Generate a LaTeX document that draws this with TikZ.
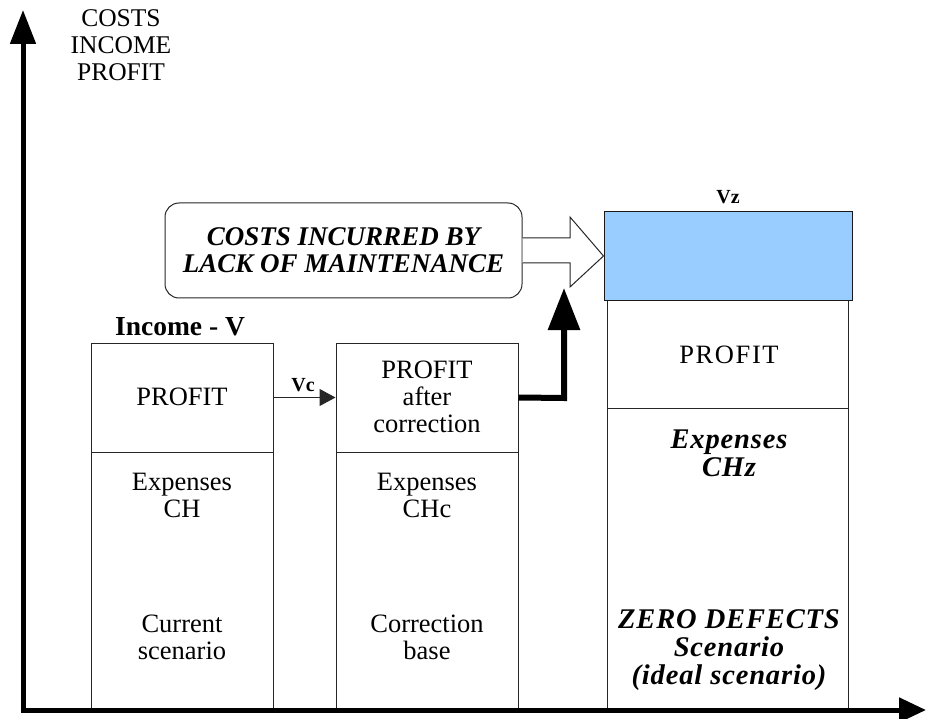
\documentclass[tikz,border=0pt]{standalone}
\usepackage{fontspec}
\setmainfont{Liberation Serif}
\usetikzlibrary{arrows.meta}
\definecolor{vzblue}{HTML}{99CCFF}
\begin{document}
\begin{tikzpicture}[x=1pt,y=-1pt,
  txt/.style={inner sep=0pt,align=center,font=\fontsize{26.5}{27}\selectfont},
  btxt/.style={txt,font=\fontsize{27}{27}\selectfont\bfseries\itshape},
  ztxt/.style={txt,font=\fontsize{28.5}{28}\selectfont\bfseries\itshape\addfontfeature{LetterSpace=3}},
  lbl/.style={inner sep=0pt,font=\fontsize{20}{22}\selectfont\bfseries},
  boxpart/.style={draw=black!85,line width=1pt,fill=white,inner sep=0pt},
  axis/.style={line width=5pt}]
\useasboundingbox (0,0) rectangle (926,719);
% axes
\coordinate (yb) at (23,712);
\coordinate (yt) at (23,10);
\coordinate (xl) at (21,710);
\coordinate (xr) at (926,710);
\draw[axis,-{Triangle[length=34pt,width=25pt]}] (yb) -- (yt);
% boxes
\node[boxpart,minimum width=182pt,minimum height=109pt] (b1t) at (182,397.5) {};
\node[boxpart,minimum width=182pt,minimum height=258pt] (b1b) at (182,581) {};
\node[boxpart,minimum width=182pt,minimum height=109pt] (b2t) at (427,397.5) {};
\node[boxpart,minimum width=182pt,minimum height=258pt] (b2b) at (427,581) {};
\node[boxpart,minimum width=241pt,minimum height=108pt] (b3t) at (727.5,354) {};
\node[boxpart,minimum width=241pt,minimum height=302pt] (b3b) at (727.5,559) {};
\node[boxpart,fill=vzblue,draw=black!90,minimum width=248pt,minimum height=88pt] (vz) at (728,256) {};
\draw[axis,-{Triangle[length=27pt,width=24pt]}] (xl) -- (xr);
% texts in boxes
\node[txt] (t1a) at (182,397) {PROFIT};
\node[txt] (t1b) at (182,495) {Expenses\\CH};
\node[txt] (t1c) at (182,637) {Current\\scenario};
\node[txt] (t2a) at (427,397) {PROFIT\\after\\correction};
\node[txt] (t2b) at (427,495) {Expenses\\CHc};
\node[txt] (t2c) at (427,637) {Correction\\base};
\node[txt,font=\fontsize{26.5}{27}\selectfont\addfontfeature{LetterSpace=6}] (t3a) at (729,355) {PROFIT};
\node[ztxt] (t3b) at (729,453) {Expenses\\CHz};
\node[ztxt] (t3c) at (729,650) {ZERO DEFECTS\\Scenario\\(ideal scenario)};
% labels
\node[txt,font=\fontsize{27.5}{27}\selectfont\bfseries] (inc) at (180,327) {Income - V};
\node[lbl] (vzl) at (728,197) {Vz};
\node[lbl] (vcl) at (303,385) {Vc};
\node[txt,font=\fontsize{25.5}{27}\selectfont] (yl) at (121,45) {COSTS\\INCOME\\PROFIT};
% rounded box
\node[draw=black!85,line width=1pt,rounded corners=14pt,minimum width=357pt,minimum height=95pt,btxt] (cost) at (343.5,250.5) {COSTS INCURRED BY\\LACK OF MAINTENANCE};
% hollow arrow
\draw[draw=black!85,line width=1pt,fill=white] (cost.east |- 0,238) -- (570,238) -- (570,217) -- (vz.west) -- (570,287) -- (570,263) -- (cost.east |- 0,263);
% Vc arrow
\draw[line width=1pt,black!85,-{Triangle[length=16pt,width=17pt]}] (b1t.east) -- (b2t.west);
% thick arrow
\coordinate (bend) at (564,398);
\coordinate (tip) at (564,288);
\draw[line width=6pt,miter limit=10,-{Triangle[length=42pt,width=31pt]}] (b2t.east) -- (bend) -- (tip);
\end{tikzpicture}
\end{document}
